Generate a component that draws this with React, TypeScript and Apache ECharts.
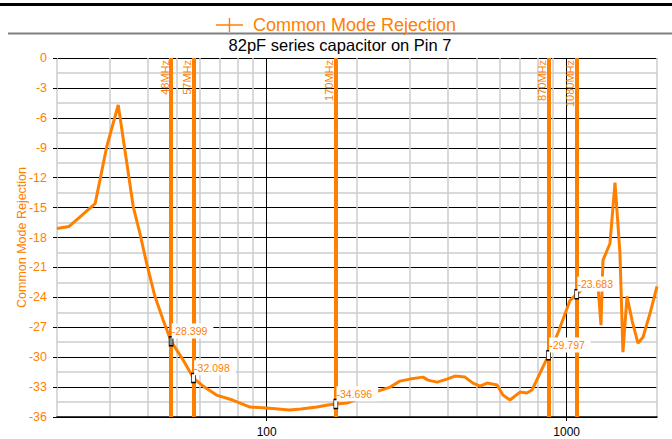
import React, { useEffect, useRef } from 'react';
import * as echarts from 'echarts';

// Frequency (MHz) and common mode rejection (dB)
const freqsMHz = [
  20, 21.9, 23.3, 26.8, 29.3, 32.0, 35.9, 37.8, 39.8, 42.4, 45.2, 48, 52.7, 57,
  62, 68, 77, 88, 100, 119, 130, 147, 160, 170, 185, 197, 235, 258, 278, 300,
  332, 345, 370, 399, 424, 458, 487, 514, 543, 586, 613, 647, 699, 737, 766,
  815, 870, 940, 1026, 1080, 1196, 1272, 1301, 1321, 1363, 1394, 1449, 1505,
  1540, 1589, 1651, 1728, 1796, 1896, 2000,
];
const cmrDb = [
  -17.1, -16.9, -16.2, -14.6, -8.9, -4.7, -14.9, -17.6, -20.6, -23.9, -26.3, -28.399, -30.3, -32.098,
  -33.0, -33.8, -34.3, -35.0, -35.1, -35.3, -35.2, -35.0, -34.8, -34.696, -34.6, -34.3, -33.4, -33.0, -32.4, -32.2,
  -32.0, -32.3, -32.5, -32.2, -31.9, -32.0, -32.6, -32.9, -32.6, -32.8, -33.8, -34.3, -33.5, -33.6, -33.3,
  -31.6, -29.797, -27.4, -24.3, -23.683, -22.6, -22.9, -26.8, -20.3, -19.3, -18.6, -12.5, -19.6,
  -29.5, -23.9, -26.3, -28.6, -28.0, -25.6, -22.9,
];

const markerFreqs = [48, 57, 170, 870, 1080];
const markerNames = ['48MHz', '57MHz', '170MHz', '870MHz', '1080MHz'];
const markerValues = [-28.399, -32.098, -34.696, -29.797, -23.683];

const xMajorTicks = [100, 1000];
const xMinorTicks = [20, 30, 40, 50, 60, 70, 80, 90, 200, 300, 400, 500, 600, 700, 800, 900, 2000];
const Y_MIN = -36;
const Y_MAX = 0;

const SERIES_NAME = 'Common Mode Rejection';
const TITLE = '82pF series capacitor on Pin 7';
const Y_NAME = 'Common Mode Rejection';

const ORANGE = '#ff8000';
const FONT = 'Liberation Sans, Arial, sans-serif';

export default function App() {
  const ref = useRef<HTMLDivElement>(null);
  useEffect(() => {
    if (!ref.current) return;
    const chart = echarts.init(ref.current, undefined, { renderer: 'svg' });
    const option: any = {
      animation: false,
      backgroundColor: '#ffffff',
      textStyle: { fontFamily: FONT },
      graphic: [
        { type: 'rect', silent: true, shape: { x: 0, y: 3, width: 672, height: 3 }, style: { fill: '#000' } },
        { type: 'rect', silent: true, shape: { x: 8, y: 32.5, width: 664, height: 2 }, style: { fill: '#808080' } },
        {
          type: 'text', silent: true, x: 340, y: 45,
          style: { text: TITLE, fontSize: 16.5, fill: '#000', align: 'center', verticalAlign: 'middle', fontFamily: FONT },
        },
      ],
      legend: {
        top: 11,
        left: 'center',
        itemWidth: 27,
        itemHeight: 14,
        selectedMode: false,
        data: [{ name: SERIES_NAME, icon: 'path://M0,6.3h27v1.4h-27z M12.8,0h1.4v14h-1.4z', itemStyle: { color: ORANGE } }],
        textStyle: { color: ORANGE, fontSize: 18, fontFamily: FONT, padding: [0, 0, 0, 5] },
      },
      grid: { left: 57, right: 15, top: 58, bottom: 22 },
      xAxis: [
        {
          type: 'log', logBase: 10, min: 20, max: 2000, position: 'top', z: 0,
          axisLine: { show: false },
          axisTick: { show: false, customValues: xMinorTicks },
          axisLabel: { show: false },
          splitLine: { show: true, lineStyle: { color: '#cccccc', width: 1.5 } },
        },
        {
          type: 'log', logBase: 10, min: 20, max: 2000, position: 'bottom', z: 1,
          axisLine: { show: true, onZero: false, lineStyle: { color: '#000', width: 1.5 } },
          axisTick: { show: true, length: 4, customValues: xMajorTicks, lineStyle: { color: '#000' } },
          axisLabel: {
            customValues: xMajorTicks, color: '#000', fontSize: 12, margin: 9, fontFamily: FONT,
            formatter: (v: number) => String(Math.round(v)),
          },
          splitLine: { show: true, lineStyle: { color: '#000', width: 1 } },
        },
      ],
      yAxis: {
        type: 'value', min: Y_MIN, max: Y_MAX, interval: 3,
        axisLine: { show: false },
        axisTick: { show: true, length: 4, lineStyle: { color: '#000' } },
        axisLabel: { color: ORANGE, fontSize: 12.5, margin: 10, fontFamily: FONT },
        splitLine: { show: true, lineStyle: { color: '#000', width: 1 } },
        minorTick: { show: false, splitNumber: 2 },
        minorSplitLine: { show: true, lineStyle: { color: '#cccccc', width: 1.5 } },
        name: Y_NAME,
        nameLocation: 'middle',
        nameGap: 29,
        nameMoveOverlap: false,
        nameTextStyle: { color: ORANGE, fontSize: 12.5, fontFamily: FONT },
      },
      series: [
        {
          type: 'line',
          name: SERIES_NAME,
          xAxisIndex: 1,
          data: freqsMHz.map((f, i) => [f, cmrDb[i]]),
          symbol: 'none',
          showSymbol: false,
          lineStyle: { color: ORANGE, width: 3 },
          itemStyle: { color: ORANGE },
          z: 3,
          markLine: {
            silent: true,
            symbol: 'none',
            lineStyle: { color: ORANGE, width: 4, type: 'solid' },
            emphasis: { disabled: true },
            label: {
              show: true,
              position: 'insideEndTop',
              distance: [2, 1],
              formatter: (p: any) => p.name,
              color: ORANGE,
              fontSize: 11,
              fontFamily: FONT,
            },
            data: markerFreqs.map((f, i) => [
              { name: markerNames[i], coord: [f, Y_MIN] },
              { coord: [f, Y_MAX] },
            ]),
          },
          markPoint: {
            silent: true,
            symbol: 'rect',
            symbolSize: [4, 9],
            itemStyle: { color: '#ffffff', borderColor: '#000', borderWidth: 1 },
            emphasis: { disabled: true },
            label: {
              show: true,
              position: [3, -5],
              align: 'left',
              verticalAlign: 'middle',
              formatter: (p: any) => Number(p.value).toFixed(3),
              color: ORANGE,
              fontSize: 10.5,
              fontFamily: FONT,
              backgroundColor: '#ffffff',
              padding: [2, 6, 2, 0],
            },
            data: markerFreqs.map((f, i) => ({
              coord: [f, markerValues[i]],
              value: markerValues[i],
              itemStyle: i === 0 ? { color: '#8c8c8c', borderColor: '#000', borderWidth: 1 } : undefined,
            })),
          },
        },
      ],
    };
    chart.setOption(option);
    return () => chart.dispose();
  }, []);
  return (
    <div
      ref={ref}
      style={{ position: 'absolute', left: 0, top: 0, width: 672, height: 439, background: '#fff' }}
    />
  );
}
